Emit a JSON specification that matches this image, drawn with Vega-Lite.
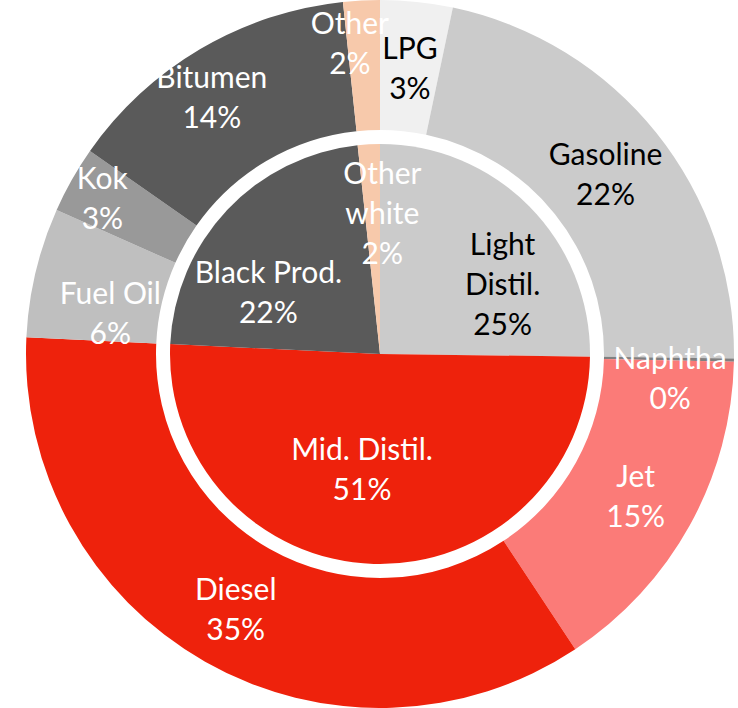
{
  "$schema": "https://vega.github.io/schema/vega-lite/v6.json",
  "width": 716,
  "height": 706,
  "autosize": "none",
  "padding": {"left": 22, "top": 1, "right": 0, "bottom": 1},
  "background": "white",
  "view": {"stroke": null},
  "config": {"text": {"font": "Lato", "fontSize": 30, "lineHeight": 40, "align": "center", "baseline": "middle", "lineBreak": "\n"}},
  "datasets": {
    "inner": [
      {"idx": 1, "name": "Light Distil.", "label": "Light\nDistil.\n25%", "value": 25.2},
      {"idx": 2, "name": "Mid. Distil.", "label": "Mid. Distil.\n51%", "value": 50.55},
      {"idx": 3, "name": "Black Prod.", "label": "Black Prod.\n22%", "value": 22.55},
      {"idx": 4, "name": "Other white", "label": "Other\nwhite\n2%", "value": 1.7}
    ],
    "outer": [
      {"idx": 1, "name": "LPG", "label": "LPG\n3%", "value": 3.3},
      {"idx": 2, "name": "Gasoline", "label": "Gasoline\n22%", "value": 21.9},
      {"idx": 3, "name": "Naphtha", "label": "Naphtha\n0%", "value": 0.15},
      {"idx": 4, "name": "Jet", "label": "Jet\n15%", "value": 15.35},
      {"idx": 5, "name": "Diesel", "label": "Diesel\n35%", "value": 35.05},
      {"idx": 6, "name": "Fuel Oil", "label": "Fuel Oil\n6%", "value": 5.92},
      {"idx": 7, "name": "Kok", "label": "Kok\n3%", "value": 3.05},
      {"idx": 8, "name": "Bitumen", "label": "Bitumen\n14%", "value": 13.61},
      {"idx": 9, "name": "Other", "label": "Other\n2%", "value": 1.67}
    ]
  },
  "encoding": {
    "theta": {"field": "value", "type": "quantitative", "stack": true, "scale": {"domain": [0, 100]}},
    "order": {"field": "idx", "type": "quantitative"}
  },
  "layer": [
    {
      "data": {"name": "inner"},
      "mark": {"type": "arc", "radius": 210, "radius2": 0, "stroke": null},
      "encoding": {"color": {"field": "name", "type": "nominal", "legend": null}}
    },
    {
      "data": {"name": "outer"},
      "mark": {"type": "arc", "radius": 354, "radius2": 224, "stroke": null},
      "encoding": {
        "color": {
          "field": "name", "type": "nominal", "legend": null,
          "scale": {
            "domain": ["Light Distil.", "Mid. Distil.", "Black Prod.", "Other white", "LPG", "Gasoline", "Naphtha", "Jet", "Diesel", "Fuel Oil", "Kok", "Bitumen", "Other"],
            "range": ["#cbcbcb", "#ee220c", "#5a5a5a", "#f7c9ab", "#f0f0f0", "#cbcbcb", "#808080", "#fb7b78", "#ee220c", "#bfbfbf", "#999999", "#5a5a5a", "#f7c9ab"]
          }
        }
      }
    },
    {
      "data": {"name": "outer"},
      "mark": {"type": "text", "radius": 289, "dy": -17, "color": "#000000"},
      "encoding": {"text": {"condition": {"test": "datum.name === 'LPG' || datum.name === 'Gasoline'", "field": "label"}, "value": ""}}
    },
    {
      "data": {"name": "outer"},
      "mark": {"type": "text", "radius": 292, "dy": -17, "color": "#ffffff"},
      "encoding": {"text": {"condition": {"test": "datum.name === 'Jet' || datum.name === 'Diesel'", "field": "label"}, "value": ""}}
    },
    {
      "data": {"name": "outer"},
      "mark": {"type": "text", "radius": 313, "thetaOffset": -0.044, "dy": -17, "color": "#ffffff"},
      "encoding": {"text": {"condition": {"test": "datum.name === 'Other'", "field": "label"}, "value": ""}}
    },
    {
      "data": {"name": "outer"},
      "mark": {"type": "text", "radius": 291, "thetaOffset": 0.061, "dy": -17, "color": "#ffffff"},
      "encoding": {"text": {"condition": {"test": "datum.name === 'Naphtha'", "field": "label"}, "value": ""}}
    },
    {
      "data": {"name": "outer"},
      "mark": {"type": "text", "radius": 273, "thetaOffset": -0.077, "dy": -17, "color": "#ffffff"},
      "encoding": {"text": {"condition": {"test": "datum.name === 'Fuel Oil'", "field": "label"}, "value": ""}}
    },
    {
      "data": {"name": "outer"},
      "mark": {"type": "text", "radius": 319, "dy": -17, "color": "#ffffff"},
      "encoding": {"text": {"condition": {"test": "datum.name === 'Kok'", "field": "label"}, "value": ""}}
    },
    {
      "data": {"name": "outer"},
      "mark": {"type": "text", "radius": 308, "thetaOffset": -0.045, "dy": -17, "color": "#ffffff"},
      "encoding": {"text": {"condition": {"test": "datum.name === 'Bitumen'", "field": "label"}, "value": ""}}
    },
    {
      "data": {"name": "inner"},
      "mark": {"type": "text", "radius": 141, "thetaOffset": 0.262, "dy": -38, "color": "#000000"},
      "encoding": {"text": {"condition": {"test": "datum.name === 'Light Distil.'", "field": "label"}, "value": ""}}
    },
    {
      "data": {"name": "inner"},
      "mark": {"type": "text", "radius": 115, "thetaOffset": 0.127, "dy": -17, "color": "#ffffff"},
      "encoding": {"text": {"condition": {"test": "datum.name === 'Mid. Distil.'", "field": "label"}, "value": ""}}
    },
    {
      "data": {"name": "inner"},
      "mark": {"type": "text", "radius": 128, "thetaOffset": -0.244, "dy": -17, "color": "#ffffff"},
      "encoding": {"text": {"condition": {"test": "datum.name === 'Black Prod.'", "field": "label"}, "value": ""}}
    },
    {
      "data": {"name": "inner"},
      "mark": {"type": "text", "radius": 141, "thetaOffset": 0.07, "dy": -38, "color": "#ffffff"},
      "encoding": {"text": {"condition": {"test": "datum.name === 'Other white'", "field": "label"}, "value": ""}}
    }
  ]
}
